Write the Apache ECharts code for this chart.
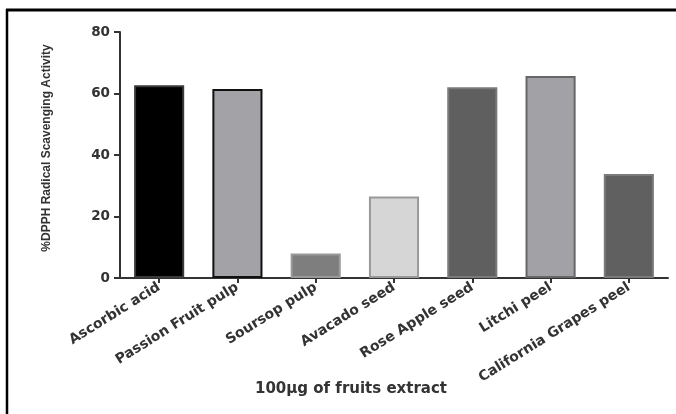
<!DOCTYPE html>
<html>
<head>
<meta charset="utf-8">
<script src="https://cdn.jsdelivr.net/npm/echarts@6/dist/echarts.min.js"></script>
<style>html,body{margin:0;padding:0;background:#fff}#c{width:676px;height:414px}</style>
</head>
<body>
<div id="c"></div>
<script>
const categories = ["Ascorbic acid", "Passion Fruit pulp", "Soursop pulp", "Avacado seed", "Rose Apple seed", "Litchi peel", "California Grapes peel"];
const values = [62.7, 61.5, 8.0, 26.5, 62.0, 65.7, 33.8];
const fillColors = ["#000000", "#a3a3a7", "#7e7e7e", "#d6d6d6", "#5f5f5f", "#a2a2a6", "#606060"];
const borderColors = ["#3a3a3a", "#111111", "#9a9a9a", "#999999", "#7a7a7a", "#666666", "#7a7a7a"];
const yTicks = [0, 20, 40, 60, 80];
const yTitle = "%DPPH Radical Scavenging Activity";
const xTitle = "100\u00b5g of fruits extract";

const chart = echarts.init(document.getElementById('c'), null, {renderer: 'canvas'});
const FONT = '"Liberation Sans", Arial, sans-serif';
const WIDE = '"DejaVu Sans", sans-serif';
chart.setOption({
  animation: false,
  backgroundColor: '#ffffff',
  grid: {left: 120, right: 8, top: 32, bottom: 136},
  title: {
    text: xTitle, left: 250, top: 377,
    textStyle: {fontFamily: WIDE, fontSize: 15, fontWeight: 'bold', color: '#333'}
  },
  xAxis: {
    type: 'category',
    data: categories,
    axisLine: {lineStyle: {color: '#333', width: 2}},
    axisTick: {show: true, alignWithLabel: true, length: 5, lineStyle: {color: '#333', width: 2}},
    axisLabel: {rotate: 32, interval: 0, margin: 8, fontFamily: WIDE, fontSize: 14, fontWeight: 'bold', color: '#333'}
  },
  yAxis: {
    type: 'value', min: yTicks[0], max: yTicks[yTicks.length - 1], interval: 20,
    name: yTitle, nameLocation: 'middle', nameGap: 67, nameRotate: 90,
    nameTextStyle: {fontFamily: FONT, fontSize: 12, fontWeight: 'bold', color: '#333', padding: [0, 0, 0, 14]},
    axisLine: {show: true, lineStyle: {color: '#333', width: 2}},
    axisTick: {show: true, length: 6, lineStyle: {color: '#333', width: 2}},
    splitLine: {show: false},
    axisLabel: {margin: 10, fontFamily: WIDE, fontSize: 13.5, fontWeight: 'bold', color: '#333'}
  },
  series: [{
    type: 'bar',
    barWidth: '64%',
    data: values.map((v, i) => ({
      value: v,
      itemStyle: {color: fillColors[i], borderColor: borderColors[i], borderWidth: 2}
    }))
  }],
  graphic: [
    {type: 'line', shape: {x1: 6, y1: 10, x2: 676, y2: 10}, style: {stroke: '#000', lineWidth: 3}},
    {type: 'line', shape: {x1: 7, y1: 9, x2: 7, y2: 414}, style: {stroke: '#000', lineWidth: 2.5}}
  ]
});
</script>
</body>
</html>
